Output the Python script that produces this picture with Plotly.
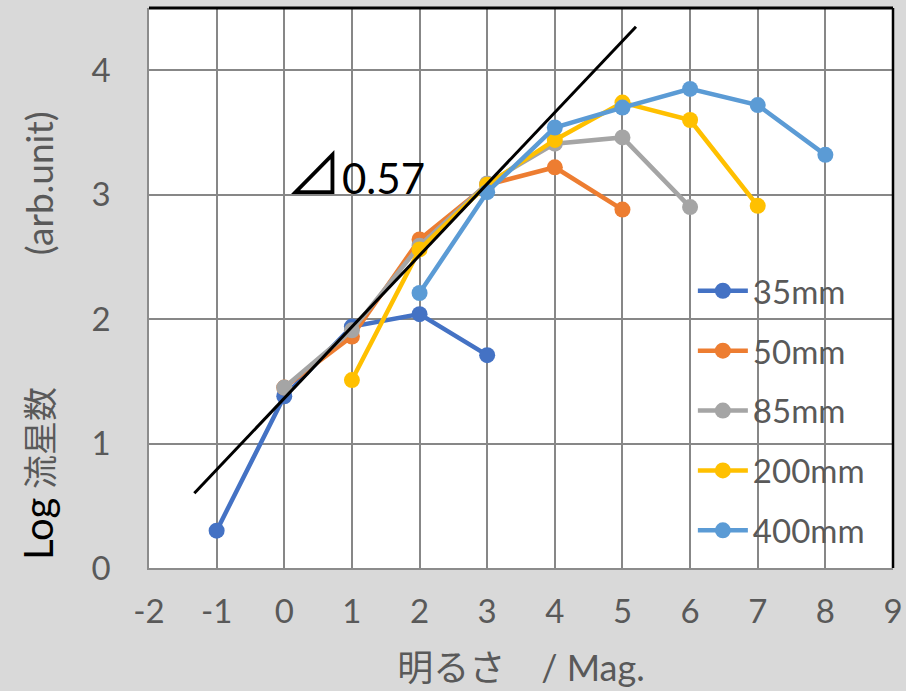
import plotly.graph_objects as go

# ---- data ----
series_names = ["35mm", "50mm", "85mm", "200mm", "400mm"]
series_colors = ["#4472C4", "#ED7D31", "#A5A5A5", "#FFC000", "#5B9BD5"]

x_35 = [-1, 0, 1, 2, 3]
y_35 = [0.30, 1.38, 1.94, 2.04, 1.71]

x_50 = [0, 1, 2, 3, 4, 5]
y_50 = [1.45, 1.86, 2.64, 3.08, 3.22, 2.88]

x_85 = [0, 1, 2, 3, 4, 5, 6]
y_85 = [1.45, 1.91, 2.59, 3.09, 3.41, 3.46, 2.90]

x_200 = [1, 2, 3, 4, 5, 6, 7]
y_200 = [1.51, 2.56, 3.08, 3.44, 3.74, 3.60, 2.91]

x_400 = [2, 3, 4, 5, 6, 7, 8]
y_400 = [2.21, 3.02, 3.54, 3.70, 3.85, 3.72, 3.32]

fit_x = [-1.33, 5.20]
fit_y = [0.60, 4.35]
slope_label = "0.57"

x_ticks = [-2, -1, 0, 1, 2, 3, 4, 5, 6, 7, 8, 9]
x_ticktext = ["-2", "-1", "0", "1", "2", "3", "4", "5", "6", "7", "8", "9"]
y_ticks = [0, 1, 2, 3, 4]

xs = [x_35, x_50, x_85, x_200, x_400]
ys = [y_35, y_50, y_85, y_200, y_400]

FONT = "Lato, 'Noto Sans CJK JP', sans-serif"
CJK = "'Noto Sans CJK JP'"
GRAY_TXT = "#595959"
GRID = "#878787"

fig = go.Figure()
for i, (name, col, xv, yv) in enumerate(zip(series_names, series_colors, xs, ys)):
    fig.add_trace(go.Scatter(
        x=xv, y=yv, name=name, mode="lines+markers",
        line=dict(color=col, width=4.5),
        marker=dict(color=col, size=16),
        legendgroup=name,
    ))

fig.add_trace(go.Scatter(
    x=fit_x, y=fit_y, mode="lines", showlegend=False,
    line=dict(color="#000000", width=3), hoverinfo="skip",
))

fig.update_layout(
    width=906, height=691,
    margin=dict(l=149, r=13, t=8, b=123),
    paper_bgcolor="#D9D9D9",
    plot_bgcolor="#FFFFFF",
    font=dict(family=FONT, color=GRAY_TXT, size=33),
    legend=dict(
        x=0.731, y=0.545, xanchor="left", yanchor="top",
        bgcolor="rgba(0,0,0,0)", font=dict(size=33, color=GRAY_TXT),
        tracegroupgap=14, itemwidth=50,
    ),
    xaxis=dict(
        range=[-2, 9], tickvals=x_ticks, ticktext=x_ticktext,
        showgrid=True, gridcolor=GRID, gridwidth=1.5,
        zeroline=False, showline=True, linecolor="#8C8C8C", linewidth=1.5,
        ticks="", ticklabelstandoff=14, automargin=False,
        tickfont=dict(size=33, color=GRAY_TXT),
        title=dict(text="明るさ　/ Mag.", font=dict(size=36, color=GRAY_TXT), standoff=26),
    ),
    yaxis=dict(
        range=[0, 4.5], tickvals=y_ticks, showgrid=True, gridcolor=GRID, gridwidth=1.5,
        zeroline=False, showline=True, linecolor="#8C8C8C", linewidth=1.5,
        ticks="", ticklabelstandoff=30, automargin=False,
        tickfont=dict(size=33, color=GRAY_TXT),
    ),
    shapes=[
        dict(type="line", xref="paper", yref="paper", x0=0, x1=1, y0=1, y1=1,
             line=dict(color="#000000", width=3)),
        dict(type="line", xref="paper", yref="paper", x0=1, x1=1, y0=0, y1=1,
             line=dict(color="#000000", width=2.5)),
    ],
    annotations=[
        dict(text="<span style='color:#000000;font-size:40px'>Log</span> 流星数",
             xref="paper", yref="paper", x=-0.149, y=0.168, textangle=-90,
             showarrow=False, xanchor="center", yanchor="middle",
             font=dict(size=34, color=GRAY_TXT)),
        dict(text="(arb.unit)",
             xref="paper", yref="paper", x=-0.149, y=0.6875, textangle=-90,
             showarrow=False, xanchor="center", yanchor="middle",
             font=dict(size=37, color=GRAY_TXT)),
        dict(text="<span style=\"font-family:" + CJK + ";font-size:56px\">⊿</span>" + slope_label,
             xref="x", yref="y", x=0, y=3, xanchor="left", yanchor="top", yshift=68,
             showarrow=False, font=dict(size=42, color="#000000")),
    ],
)

fig.write_html("out.html")
